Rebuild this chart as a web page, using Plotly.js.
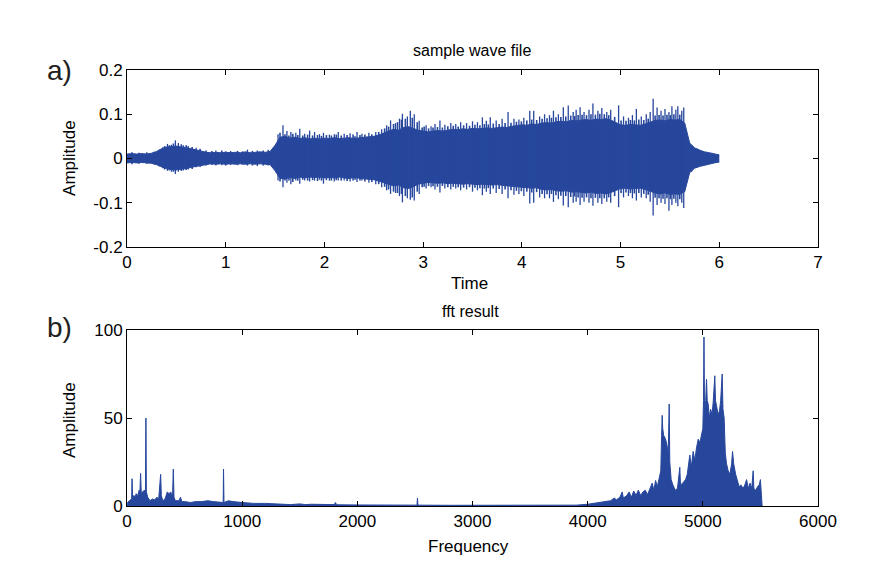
<!DOCTYPE html>
<html>
<head>
<meta charset="utf-8">
<script src="https://cdn.plot.ly/plotly-3.0.1.min.js"></script>
<style>html,body{margin:0;padding:0;background:#fff;}#chart{width:887px;height:576px;}</style>
</head>
<body>
<div id="chart"></div>
<script>
// ---------- top panel: sample wave file (envelope) ----------
const waveTime = [0,0.05,0.1,0.15,0.2,0.25,0.3,0.35,0.4,0.45,
  0.5,0.55,0.6,0.65,0.7,0.75,0.8,0.85,0.9,0.95,
  1,1.05,1.1,1.15,1.2,1.25,1.3,1.35,1.4,1.45,
  1.5,1.55,1.6,1.65,1.7,1.75,1.8,1.85,1.9,1.95,
  2,2.05,2.1,2.15,2.2,2.25,2.3,2.35,2.4,2.45,
  2.5,2.55,2.6,2.65,2.7,2.75,2.8,2.85,2.9,2.95,
  3,3.05,3.1,3.15,3.2,3.25,3.3,3.35,3.4,3.45,
  3.5,3.55,3.6,3.65,3.7,3.75,3.8,3.85,3.9,3.95,
  4,4.05,4.1,4.15,4.2,4.25,4.3,4.35,4.4,4.45,
  4.5,4.55,4.6,4.65,4.7,4.75,4.8,4.85,4.9,4.95,
  5,5.05,5.1,5.15,5.2,5.25,5.3,5.35,5.4,5.45,
  5.5,5.55,5.6,5.65,5.7,5.75,5.8,5.85,5.9,5.95,
  6];
const waveUpper = [0.010,0.011,0.010,0.011,0.010,0.012,0.016,0.022,0.026,0.027,
  0.028,0.026,0.025,0.022,0.020,0.017,0.014,0.013,0.014,0.013,
  0.014,0.013,0.014,0.013,0.015,0.013,0.014,0.015,0.014,0.016,
  0.030,0.048,0.050,0.046,0.048,0.045,0.047,0.044,0.046,0.044,
  0.046,0.045,0.047,0.045,0.046,0.047,0.045,0.047,0.048,0.049,
  0.050,0.053,0.058,0.062,0.066,0.064,0.070,0.072,0.068,0.064,
  0.062,0.060,0.062,0.063,0.062,0.064,0.066,0.065,0.067,0.066,
  0.068,0.067,0.068,0.069,0.068,0.070,0.071,0.070,0.073,0.074,
  0.076,0.075,0.078,0.077,0.080,0.081,0.080,0.083,0.084,0.083,
  0.086,0.085,0.087,0.088,0.086,0.089,0.088,0.090,0.087,0.082,
  0.076,0.075,0.077,0.076,0.075,0.078,0.082,0.086,0.087,0.085,
  0.088,0.087,0.088,0.080,0.035,0.024,0.019,0.015,0.013,0.011,
  0.008];
const waveLower = [-0.010,-0.009,-0.010,-0.009,-0.010,-0.011,-0.014,-0.019,-0.023,-0.025,
  -0.026,-0.024,-0.023,-0.020,-0.018,-0.015,-0.013,-0.012,-0.013,-0.012,
  -0.013,-0.012,-0.013,-0.012,-0.013,-0.012,-0.013,-0.012,-0.013,-0.014,
  -0.028,-0.045,-0.046,-0.043,-0.045,-0.042,-0.044,-0.042,-0.043,-0.042,
  -0.044,-0.043,-0.044,-0.042,-0.044,-0.045,-0.043,-0.045,-0.046,-0.047,
  -0.048,-0.051,-0.055,-0.058,-0.062,-0.060,-0.066,-0.068,-0.064,-0.058,
  -0.056,-0.054,-0.055,-0.056,-0.055,-0.057,-0.056,-0.057,-0.058,-0.057,
  -0.058,-0.059,-0.058,-0.059,-0.060,-0.059,-0.061,-0.062,-0.063,-0.064,
  -0.065,-0.066,-0.067,-0.066,-0.070,-0.071,-0.070,-0.073,-0.074,-0.073,
  -0.076,-0.075,-0.077,-0.078,-0.076,-0.079,-0.078,-0.080,-0.077,-0.073,
  -0.068,-0.067,-0.069,-0.068,-0.067,-0.070,-0.074,-0.078,-0.080,-0.078,
  -0.081,-0.080,-0.081,-0.075,-0.032,-0.022,-0.018,-0.015,-0.012,-0.010,
  -0.008];
// tall individual peaks sticking out of the envelope
const spikeTime = [0.36,0.41,0.45,0.49,0.52,0.57,0.62,0.70,0.90,1.05,1.22,1.32,1.43,
  1.53,1.58,1.62,1.66,1.71,1.75,1.80,1.85,1.90,1.95,1.99,2.05,2.10,2.14,2.20,2.26,2.33,2.38,2.45,2.52,2.58,
  2.63,2.67,2.72,2.76,2.79,2.84,2.87,2.91,2.96,
  3.03,3.08,3.12,3.17,3.22,3.28,3.33,3.38,3.44,3.50,3.55,3.60,3.64,3.68,3.74,3.80,3.86,3.92,3.97,4.02,4.08,4.12,4.18,4.23,4.28,4.32,4.37,4.42,
  4.47,4.52,4.55,4.59,4.63,4.68,4.72,4.77,4.81,4.86,4.90,4.98,5.03,5.08,5.12,5.16,5.21,5.26,5.30,5.33,5.37,5.41,5.45,5.49,5.52,5.56,5.58,5.62,5.64,
  5.72,5.78];
const spikeHigh = [0.025,0.033,0.031,0.041,0.035,0.030,0.028,0.024,0.018,0.017,0.020,0.018,0.020,
  0.055,0.075,0.062,0.060,0.058,0.067,0.056,0.063,0.060,0.055,0.058,0.054,0.055,0.060,0.056,0.057,0.060,0.056,0.058,0.060,0.066,
  0.075,0.086,0.080,0.090,0.101,0.095,0.108,0.100,0.085,
  0.075,0.073,0.078,0.086,0.076,0.080,0.078,0.082,0.080,0.084,0.082,0.093,0.085,0.093,0.086,0.090,0.105,0.090,0.088,0.092,0.108,0.108,0.095,0.100,0.098,0.108,0.100,0.116,
  0.120,0.105,0.110,0.116,0.105,0.110,0.124,0.108,0.114,0.105,0.110,0.120,0.095,0.092,0.098,0.112,0.095,0.100,0.105,0.135,0.115,0.108,0.112,0.105,0.118,0.110,0.118,0.108,0.115,
  0.030,0.022];
const spikeLow = [-0.022,-0.028,-0.030,-0.035,-0.030,-0.027,-0.025,-0.020,-0.016,-0.015,-0.016,-0.017,-0.016,
  -0.050,-0.065,-0.055,-0.058,-0.050,-0.057,-0.050,-0.052,-0.050,-0.048,-0.057,-0.050,-0.052,-0.050,-0.050,-0.052,-0.053,-0.050,-0.055,-0.058,-0.065,
  -0.072,-0.080,-0.078,-0.085,-0.099,-0.090,-0.093,-0.095,-0.080,
  -0.068,-0.065,-0.070,-0.077,-0.068,-0.070,-0.068,-0.072,-0.070,-0.075,-0.072,-0.083,-0.075,-0.080,-0.078,-0.080,-0.090,-0.082,-0.080,-0.085,-0.102,-0.100,-0.088,-0.090,-0.090,-0.098,-0.092,-0.106,
  -0.110,-0.100,-0.098,-0.105,-0.098,-0.100,-0.107,-0.100,-0.103,-0.098,-0.100,-0.110,-0.088,-0.085,-0.090,-0.095,-0.088,-0.090,-0.098,-0.129,-0.105,-0.100,-0.103,-0.118,-0.105,-0.100,-0.108,-0.100,-0.112,
  -0.030,-0.020];
// short ragged fringe along the envelope edge
const fringeTime = [0.05,0.12,0.20,0.27,0.33,0.38,0.43,0.47,0.55,0.60,0.66,0.74,0.80,0.86,0.96,1.00,1.12,1.17,1.27,1.38,1.47,
  1.55,1.60,1.64,1.68,1.73,1.78,1.83,1.88,1.93,1.97,2.02,2.07,2.12,2.17,2.23,2.29,2.31,2.36,2.41,2.48,2.55,
  2.61,2.65,2.70,2.74,2.78,2.82,2.89,2.94,2.99,
  3.01,3.055,3.10,3.145,3.195,3.25,3.305,3.355,3.41,3.47,3.525,3.575,3.62,3.66,3.71,3.77,3.83,3.89,3.945,3.995,
  4.05,4.10,4.15,4.205,4.255,4.30,4.345,4.395,4.445,4.495,4.535,4.57,4.61,4.655,4.70,4.745,4.79,4.835,4.88,4.94,
  5.005,5.055,5.10,5.14,5.185,5.235,5.28,5.35,5.39,5.43,5.47,5.505,5.54,5.60];
const fringeHigh = [0.014,0.013,0.014,0.015,0.020,0.028,0.030,0.034,0.032,0.030,0.026,0.022,0.018,0.017,0.018,0.016,0.017,0.016,0.017,0.018,0.020,
  0.058,0.055,0.052,0.056,0.053,0.052,0.054,0.052,0.053,0.051,0.053,0.052,0.054,0.052,0.053,0.054,0.050,0.053,0.054,0.055,0.060,
  0.068,0.072,0.078,0.082,0.088,0.090,0.092,0.082,0.070,
  0.072,0.068,0.070,0.071,0.070,0.073,0.074,0.072,0.075,0.074,0.076,0.075,0.078,0.077,0.079,0.078,0.080,0.081,0.083,0.084,
  0.086,0.088,0.087,0.090,0.091,0.092,0.093,0.094,0.095,0.097,0.096,0.098,0.099,0.098,0.100,0.099,0.101,0.100,0.098,0.094,
  0.086,0.085,0.087,0.086,0.088,0.087,0.090,0.097,0.098,0.097,0.099,0.098,0.100,0.099];
const fringeLow = [-0.013,-0.012,-0.012,-0.013,-0.018,-0.025,-0.027,-0.030,-0.028,-0.026,-0.024,-0.019,-0.016,-0.015,-0.015,-0.016,-0.015,-0.014,-0.016,-0.016,-0.018,
  -0.052,-0.050,-0.050,-0.053,-0.050,-0.048,-0.050,-0.049,-0.051,-0.050,-0.049,-0.050,-0.049,-0.050,-0.051,-0.050,-0.048,-0.050,-0.052,-0.053,-0.058,
  -0.064,-0.070,-0.075,-0.078,-0.080,-0.085,-0.088,-0.075,-0.065,
  -0.064,-0.062,-0.063,-0.064,-0.062,-0.065,-0.064,-0.065,-0.066,-0.065,-0.066,-0.067,-0.068,-0.067,-0.068,-0.069,-0.070,-0.072,-0.073,-0.074,
  -0.075,-0.077,-0.076,-0.080,-0.081,-0.080,-0.083,-0.084,-0.085,-0.087,-0.086,-0.088,-0.089,-0.088,-0.090,-0.089,-0.090,-0.090,-0.088,-0.085,
  -0.078,-0.077,-0.078,-0.079,-0.078,-0.080,-0.082,-0.089,-0.090,-0.091,-0.090,-0.092,-0.091,-0.092];

// ---------- bottom panel: fft result (peaks) ----------
const fftFreq = [0,5,20,40,44,48,60,70,80,95,105,112,118,124,135,150,160,164,168,180,200,220,240,260,275,285,292,298,310,330,350,365,380,395,402,408,420,450,465,475,500,550,600,650,700,750,800,835,838,842,880,920,1000,1100,1200,1300,1400,1420,1500,1550,1600,1700,1800,1810,1820,2000,2200,2400,2518,2522,2526,2800,3200,3600,3900,
  4000,4050,4100,4150,4200,4230,4250,4280,4300,4310,4340,4360,4380,4400,4420,4440,4460,4480,4500,4520,4540,4560,4575,4590,4605,4620,4635,4642,4647,4652,4660,4670,4685,4700,4708,4713,4725,4740,4760,4780,4800,4806,4825,4850,4865,4887,4900,4916,4930,4945,4960,4975,4988,5000,5006,5010,5015,5025,5032,5038,5046,5057,5067,5080,5090,5104,5110,5120,5133,5145,5155,5168,5175,5185,5195,5206,5220,5235,5250,5258,5268,5285,5300,5315,5330,5350,5365,5380,5395,5410,5425,5437,5443,5460,5475,5490,5500,5505,5512,5515];
const fftAmp = [0,2,3,4,15.5,4,6,5,7,6,9,8,18.5,7,8,9,8,50,8,5,3,4,3.5,5,4,11,18,6,3,4,8,7,8,5,21,5,3,3,5,2.5,2.5,2,2.5,2.5,3,2.5,2,2,21,2,3,2.5,2,1.5,1.5,1.2,1,0.8,1.2,0.8,1,0.7,0.8,2,0.7,0.6,0.5,0.5,0.5,4.5,0.5,0.4,0.4,0.4,0.5,
  1,1.5,2,2.5,3,4.5,3.5,5,8,4.5,6,8,5,8.5,6,9,6,8,9,6.5,10,13,9,14.5,11,16,20,40,51.5,44,40,39,36,30,58,25,15,12,9,10,22,12,13,15,18,29,22,31,26,33,38,36,41,44,60,96,52,60,72,60,58,50,55,52,59,74,60,56,52,54,60,75,55,50,30,24,20,18,24,31,24,18,15,11,12,10,12,15,10,13,10,20,10,9,11,12,15,9,6,0];

const BLUE = '#27479d';
const FONT = 'Liberation Sans, Arial, Helvetica, sans-serif';

function segments(xs, hi, lo) {
  const sx = [], sy = [];
  for (let i = 0; i < xs.length; i++) {
    sx.push(xs[i], xs[i], null);
    sy.push(hi[i], lo[i], null);
  }
  return {sx, sy};
}
const sp = segments(spikeTime, spikeHigh, spikeLow);
const fr = segments(fringeTime, fringeHigh, fringeLow);

const traces = [
  {x: waveTime, y: waveLower, xaxis: 'x', yaxis: 'y', mode: 'lines',
   line: {color: BLUE, width: 1}, hoverinfo: 'skip'},
  {x: waveTime, y: waveUpper, xaxis: 'x', yaxis: 'y', mode: 'lines', fill: 'tonexty',
   fillcolor: BLUE, line: {color: BLUE, width: 1}, hoverinfo: 'skip'},
  {x: fr.sx, y: fr.sy, xaxis: 'x', yaxis: 'y', mode: 'lines', connectgaps: false,
   line: {color: BLUE, width: 1.6}, hoverinfo: 'skip'},
  {x: sp.sx, y: sp.sy, xaxis: 'x', yaxis: 'y', mode: 'lines', connectgaps: false,
   line: {color: BLUE, width: 1.3}, hoverinfo: 'skip'},
  {x: fftFreq, y: fftAmp, xaxis: 'x2', yaxis: 'y2', mode: 'lines', fill: 'tozeroy',
   fillcolor: BLUE, line: {color: BLUE, width: 1}, hoverinfo: 'skip'}
];

const axCommon = {
  showline: true, linecolor: '#000', linewidth: 1, mirror: 'ticks',
  ticks: 'inside', ticklen: 5, tickwidth: 1, tickcolor: '#000',
  showgrid: false, zeroline: false, fixedrange: true,
  tickfont: {family: FONT, size: 17, color: '#000'}
};

const layout = {
  width: 887, height: 576,
  margin: {l: 0, r: 0, t: 0, b: 0},
  paper_bgcolor: '#fff', plot_bgcolor: '#fff',
  showlegend: false,
  font: {family: FONT, size: 17, color: '#000'},
  xaxis: Object.assign({}, axCommon, {domain: [0.1432, 0.9222], range: [0, 7], anchor: 'y',
    tickvals: [0,1,2,3,4,5,6,7], ticktext: ['0','1','2','3','4','5','6','7']}),
  yaxis: Object.assign({}, axCommon, {domain: [0.5712, 0.8785], range: [-0.2, 0.2], anchor: 'x',
    tickvals: [-0.2,-0.1,0,0.1,0.2], ticktext: ['-0.2','-0.1','0','0.1','0.2']}),
  xaxis2: Object.assign({}, axCommon, {domain: [0.1432, 0.9222], range: [0, 6000], anchor: 'y2',
    tickvals: [0,1000,2000,3000,4000,5000,6000], ticktext: ['0','1000','2000','3000','4000','5000','6000']}),
  yaxis2: Object.assign({}, axCommon, {domain: [0.1215, 0.4271], range: [0, 100], anchor: 'x2',
    tickvals: [0,50,100], ticktext: ['0','50','100']}),
  annotations: [
    {text: 'sample wave file', xref: 'paper', yref: 'paper', x: 0.532, y: 0.913, xanchor: 'center', yanchor: 'middle', showarrow: false, font: {family: FONT, size: 16}},
    {text: 'Time', xref: 'paper', yref: 'paper', x: 0.529, y: 0.507, xanchor: 'center', yanchor: 'middle', showarrow: false, font: {family: FONT, size: 17}},
    {text: 'Amplitude', xref: 'paper', yref: 'paper', x: 0.079, y: 0.726, xanchor: 'center', yanchor: 'middle', textangle: -90, showarrow: false, font: {family: FONT, size: 17}},
    {text: 'fft result', xref: 'paper', yref: 'paper', x: 0.530, y: 0.460, xanchor: 'center', yanchor: 'middle', showarrow: false, font: {family: FONT, size: 16}},
    {text: 'Frequency', xref: 'paper', yref: 'paper', x: 0.528, y: 0.052, xanchor: 'center', yanchor: 'middle', showarrow: false, font: {family: FONT, size: 17}},
    {text: 'Amplitude', xref: 'paper', yref: 'paper', x: 0.079, y: 0.271, xanchor: 'center', yanchor: 'middle', textangle: -90, showarrow: false, font: {family: FONT, size: 17}},
    {text: 'a)', xref: 'paper', yref: 'paper', x: 0.0676, y: 0.878, xanchor: 'center', yanchor: 'middle', showarrow: false, font: {family: FONT, size: 28, color: '#231f20'}},
    {text: 'b)', xref: 'paper', yref: 'paper', x: 0.0676, y: 0.431, xanchor: 'center', yanchor: 'middle', showarrow: false, font: {family: FONT, size: 28, color: '#231f20'}}
  ]
};

Plotly.newPlot('chart', traces, layout, {displayModeBar: false, staticPlot: true});
</script>
</body>
</html>
